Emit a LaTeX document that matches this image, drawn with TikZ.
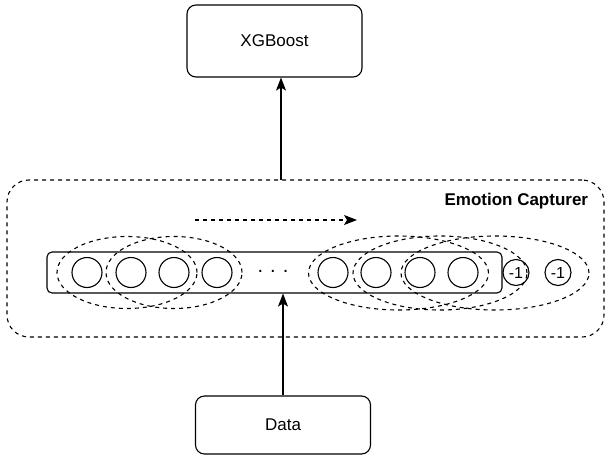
\documentclass[tikz,border=0pt]{standalone}
\usepackage{fontspec}
\setmainfont{Liberation Sans}
\usetikzlibrary{arrows.meta}
\begin{document}
\begin{tikzpicture}[x=1pt,y=-1pt,
  line width=1.1pt,
  box/.style={draw, rounded corners=9pt, font=\fontsize{17}{20}\selectfont, inner sep=0pt},
  cont/.style={draw, rounded corners=22pt, dash pattern=on 4pt off 4pt, inner sep=0pt},
  seqbox/.style={draw, rounded corners=5pt, inner sep=0pt},
  cell/.style={draw, circle, minimum size=30pt, inner sep=0pt},
  neg/.style={draw, circle, minimum size=26pt, inner sep=0pt, font=\fontsize{16}{18}\selectfont},
  win/.style={draw, dash pattern=on 4pt off 4pt},
  arr/.style={-{Stealth[length=13pt,width=10pt,inset=3pt]}}
]
\useasboundingbox (0,0) rectangle (605,455);
\node[box, minimum width=175pt, minimum height=72pt] (xgb) at (274.5,41) {XGBoost};
\node[box, minimum width=175pt, minimum height=58pt] (data) at (283,425) {Data};
\node[cont, minimum width=597pt, minimum height=157pt] (cap) at (305.5,258.5) {};
\node[anchor=east, font=\fontsize{17}{20}\selectfont\bfseries] (lbl) at (592,201) {Emotion Capturer};
\node[seqbox, minimum width=455pt, minimum height=41pt] (seq) at (274.5,272.5) {};
% windows
\draw[win] (127,272.5) ellipse [x radius=70pt, y radius=36pt];
\draw[win] (174,272.5) ellipse [x radius=68pt, y radius=36pt];
\draw[win] (398.5,273) ellipse [x radius=90pt, y radius=37pt];
\draw[win] (440,273) ellipse [x radius=87pt, y radius=37pt];
\draw[win] (495,273) ellipse [x radius=94pt, y radius=37pt];
% cells
\node[cell] (c1) at (87,272.5) {};
\node[cell] (c2) at (131,272.5) {};
\node[cell] (c3) at (174,272.5) {};
\node[cell] (c4) at (217,272.5) {};
\node[font=\fontsize{20}{22}\selectfont] (dots) at (273,271) {.\hspace{7pt}.\hspace{7pt}.};
\node[cell] (c5) at (333,272.5) {};
\node[cell] (c6) at (376,272.5) {};
\node[cell] (c7) at (420,272.5) {};
\node[cell] (c8) at (463,272.5) {};
\node[neg] (m1) at (516,272.5) {-1};
\node[neg] (m2) at (558,272.5) {-1};
% dashed direction arrow
\coordinate (da) at (195,220);
\coordinate (db) at (357,220);
\draw[win, arr] (da) -- (db);
% connectors
\coordinate (up) at (281,180);
\draw[arr] (up) -- (up |- xgb.south);
\draw[arr] (data.north) -- (data.north |- seq.south);
\end{tikzpicture}
\end{document}
